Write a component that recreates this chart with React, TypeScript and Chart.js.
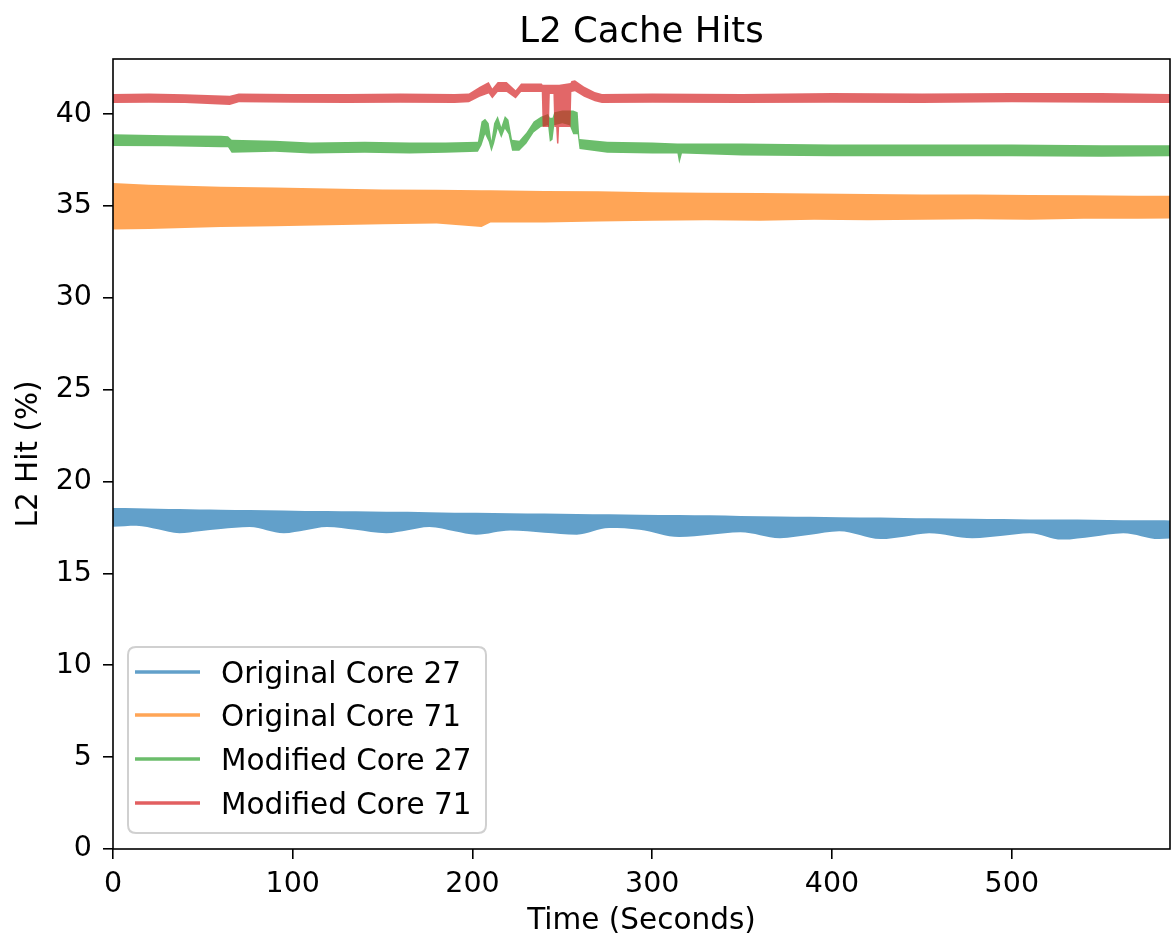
import React, { useEffect, useRef } from 'react';
import { Chart, registerables } from 'chart.js';

Chart.register(...registerables);

const TITLE = 'L2 Cache Hits';
const X_LABEL = 'Time (Seconds)';
const Y_LABEL = 'L2 Hit (%)';
const X_TICKS = [0, 100, 200, 300, 400, 500];
const Y_TICKS = [0, 5, 10, 15, 20, 25, 30, 35, 40];
const X_MAX = 588;
const Y_MAX = 43.0;
const SERIES_NAMES = ['Original Core 27', 'Original Core 71', 'Modified Core 27', 'Modified Core 71'];

// Original Core 27 (blue): envelope of the noisy trace (time, low edge, high edge)
const blueT = [0, 13, 25, 37, 48, 60, 76, 95, 107, 119, 135, 152, 164, 176, 190, 202, 221, 240, 258, 276, 293, 315, 332, 349, 371, 388, 404, 427, 440, 454, 478, 495, 510, 528, 545, 562, 582, 588];
const blueLo = [17.54, 17.6, 17.4, 17.19, 17.3, 17.42, 17.53, 17.19, 17.35, 17.53, 17.38, 17.19, 17.35, 17.53, 17.3, 17.11, 17.34, 17.22, 17.11, 17.47, 17.38, 16.98, 17.1, 17.24, 16.92, 17.1, 17.29, 16.87, 17.0, 17.19, 16.92, 17.05, 17.19, 16.84, 17.0, 17.19, 16.87, 16.9];
const blueHi = [18.56, 18.55, 18.52, 18.5, 18.48, 18.47, 18.45, 18.42, 18.4, 18.4, 18.38, 18.36, 18.35, 18.33, 18.3, 18.3, 18.28, 18.26, 18.24, 18.22, 18.2, 18.18, 18.16, 18.12, 18.1, 18.08, 18.06, 18.04, 18.02, 18.0, 17.98, 17.96, 17.94, 17.93, 17.92, 17.9, 17.89, 17.88];

// Original Core 71 (orange)
const orangeT = [0, 20, 40, 60, 90, 120, 150, 180, 205, 210, 240, 270, 300, 330, 360, 390, 420, 450, 480, 510, 540, 570, 588];
const orangeLo = [33.72, 33.75, 33.8, 33.85, 33.9, 33.95, 34.0, 34.05, 33.85, 34.1, 34.1, 34.15, 34.2, 34.22, 34.2, 34.25, 34.22, 34.25, 34.28, 34.25, 34.3, 34.3, 34.32];
const orangeHi = [36.25, 36.15, 36.1, 36.05, 36.0, 35.95, 35.9, 35.88, 35.86, 35.85, 35.82, 35.8, 35.75, 35.72, 35.7, 35.68, 35.65, 35.63, 35.62, 35.6, 35.58, 35.56, 35.55];

// Modified Core 27 (green)
const greenT = [0, 30, 60, 64, 66, 90, 110, 140, 165, 185, 203, 205, 207, 209, 210.5, 212, 214, 216, 218, 220, 222, 226, 230, 234, 238, 242, 243, 244.5, 245.5, 250, 254, 256, 258.5, 259.5, 275, 300, 314, 315, 316.5, 350, 400, 450, 500, 550, 588];
const greenLo = [38.27, 38.25, 38.2, 38.2, 37.9, 37.95, 37.85, 37.9, 37.85, 37.9, 37.95, 38.3, 38.9, 38.5, 37.95, 38.4, 39.2, 38.7, 39.2, 38.9, 38.0, 38.0, 38.4, 39.0, 39.3, 39.4, 38.5, 38.6, 39.4, 39.5, 39.4, 38.9, 38.9, 38.1, 37.9, 37.85, 37.85, 37.3, 37.85, 37.75, 37.7, 37.7, 37.7, 37.68, 37.7];
const greenHi = [38.9, 38.85, 38.82, 38.8, 38.6, 38.55, 38.45, 38.5, 38.45, 38.45, 38.5, 39.6, 39.75, 39.5, 38.55, 39.5, 39.9, 39.3, 39.9, 39.7, 38.6, 38.55, 39.0, 39.6, 39.85, 40.0, 39.8, 39.8, 40.1, 40.2, 40.2, 40.2, 40.1, 38.65, 38.5, 38.45, 38.4, 38.4, 38.4, 38.4, 38.35, 38.35, 38.35, 38.3, 38.3];

// Modified Core 71 (red)
const redT = [0, 20, 40, 65, 70, 100, 130, 160, 190, 198, 204, 209, 211, 214, 219, 224, 227, 238.5, 239, 242.5, 243, 245, 245.5, 246.5, 247, 247.8, 248.2, 254.5, 255, 257, 262, 268, 272, 300, 350, 400, 450, 500, 550, 588];
const redLo = [40.6, 40.62, 40.6, 40.5, 40.65, 40.62, 40.6, 40.62, 40.6, 40.65, 40.94, 41.12, 40.85, 41.2, 41.2, 40.85, 41.2, 41.2, 39.3, 39.3, 41.1, 41.1, 39.3, 39.3, 38.4, 38.4, 39.3, 39.3, 41.2, 41.25, 40.95, 40.7, 40.6, 40.62, 40.6, 40.62, 40.6, 40.65, 40.62, 40.6];
const redHi = [41.1, 41.12, 41.08, 41.0, 41.12, 41.1, 41.1, 41.12, 41.1, 41.12, 41.49, 41.75, 41.39, 41.75, 41.75, 41.3, 41.66, 41.66, 41.6, 41.6, 41.6, 41.6, 41.6, 41.6, 41.6, 41.6, 41.6, 41.7, 41.8, 41.85, 41.5, 41.2, 41.1, 41.12, 41.1, 41.15, 41.12, 41.15, 41.15, 41.1];

const COLORS = ['#62a0ca', '#ffa556', '#6bbd6b', '#e25f60'];
const FILLS = ['#62a0ca', '#ffa556', '#6bbd6b', 'rgba(214,39,40,0.7)'];

const FONT = 'DejaVu Sans';

function band(name: string, t: number[], lo: number[], hi: number[], fill: string, order: number, smooth: boolean) {
  const common: any = {
    borderColor: 'rgba(0,0,0,0)',
    borderWidth: 0,
    pointRadius: 0,
    pointHoverRadius: 0,
    tension: smooth ? 0.4 : 0,
    cubicInterpolationMode: smooth ? 'monotone' : 'default',
    order,
  };
  return [
    { ...common, label: name + ' (low)', data: t.map((x, i) => ({ x, y: lo[i] })), fill: false },
    { ...common, label: name, data: t.map((x, i) => ({ x, y: hi[i] })), fill: '-1', backgroundColor: fill },
  ];
}

const framePlugin = {
  id: 'frame',
  afterDatasetsDraw(chart: any) {
    const { ctx, chartArea: a } = chart;
    ctx.save();
    ctx.strokeStyle = '#000';
    ctx.lineWidth = 1.6;
    ctx.strokeRect(a.left, a.top, a.right - a.left, a.bottom - a.top);
    ctx.restore();
  },
};

const titlePlugin = {
  id: 'mplTitle',
  afterDraw(chart: any) {
    const { ctx, chartArea: a } = chart;
    ctx.save();
    ctx.fillStyle = '#000';
    ctx.font = `35.5px "${FONT}"`;
    ctx.textAlign = 'center';
    ctx.textBaseline = 'alphabetic';
    ctx.fillText(TITLE, (a.left + a.right) / 2, 42);
    ctx.restore();
  },
};

const legendPlugin = {
  id: 'mplLegend',
  afterDraw(chart: any) {
    const { ctx } = chart;
    const x0 = 128, y0 = 647, w = 358, h = 186, r = 8;
    ctx.save();
    ctx.beginPath();
    ctx.moveTo(x0 + r, y0);
    ctx.lineTo(x0 + w - r, y0);
    ctx.quadraticCurveTo(x0 + w, y0, x0 + w, y0 + r);
    ctx.lineTo(x0 + w, y0 + h - r);
    ctx.quadraticCurveTo(x0 + w, y0 + h, x0 + w - r, y0 + h);
    ctx.lineTo(x0 + r, y0 + h);
    ctx.quadraticCurveTo(x0, y0 + h, x0, y0 + h - r);
    ctx.lineTo(x0, y0 + r);
    ctx.quadraticCurveTo(x0, y0, x0 + r, y0);
    ctx.closePath();
    ctx.fillStyle = 'rgba(255,255,255,0.8)';
    ctx.fill();
    ctx.strokeStyle = '#d0d0d0';
    ctx.lineWidth = 2;
    ctx.stroke();
    const rows = [672, 715, 759, 803];
    ctx.font = `29.5px "${FONT}"`;
    ctx.textAlign = 'left';
    ctx.textBaseline = 'alphabetic';
    SERIES_NAMES.forEach((name, i) => {
      const y = rows[i];
      ctx.strokeStyle = COLORS[i];
      ctx.lineWidth = 3.5;
      ctx.beginPath();
      ctx.moveTo(135, y);
      ctx.lineTo(200, y);
      ctx.stroke();
      ctx.fillStyle = '#000';
      ctx.fillText(name, 221, y + 11);
    });
    ctx.restore();
  },
};

export default function App() {
  const ref = useRef<HTMLCanvasElement | null>(null);
  useEffect(() => {
    document.body.style.margin = '0';
    document.body.style.overflow = 'hidden';
    const canvas = ref.current!;
    const datasets = [
      ...band(SERIES_NAMES[3], redT, redLo, redHi, FILLS[3], 0, false),
      ...band(SERIES_NAMES[2], greenT, greenLo, greenHi, FILLS[2], 1, false),
      ...band(SERIES_NAMES[1], orangeT, orangeLo, orangeHi, FILLS[1], 2, false),
      ...band(SERIES_NAMES[0], blueT, blueLo, blueHi, FILLS[0], 3, true),
    ];
    const tickFont = { family: FONT, size: 28.5 };
    const labelFont = { family: FONT, size: 29.5 };
    const chart = new Chart(canvas, {
      type: 'line',
      data: { datasets: datasets as any },
      options: {
        animation: false,
        responsive: false,
        devicePixelRatio: 1,
        layout: { padding: { top: 59, right: 1, left: 0, bottom: 0 } },
        plugins: {
          legend: { display: false },
          tooltip: { enabled: false },
          title: { display: false },
        },
        scales: {
          x: {
            type: 'linear',
            min: 0,
            max: X_MAX,
            afterBuildTicks: (s: any) => {
              s.ticks = X_TICKS.map((v) => ({ value: v }));
            },
            afterFit: (s: any) => {
              s.height = 97;
            },
            grid: { drawOnChartArea: false, drawTicks: true, tickLength: 10, color: '#000', lineWidth: 1.6 },
            border: { display: false },
            ticks: { font: tickFont, color: '#000', padding: 8, maxRotation: 0, autoSkip: false },
            title: { display: true, text: X_LABEL, font: labelFont, color: '#000', padding: { top: 0, bottom: 7 } },
          },
          y: {
            type: 'linear',
            min: 0,
            max: Y_MAX,
            afterBuildTicks: (s: any) => {
              s.ticks = Y_TICKS.map((v) => ({ value: v }));
            },
            afterFit: (s: any) => {
              s.width = 113;
            },
            grid: { drawOnChartArea: false, drawTicks: true, tickLength: 10, color: '#000', lineWidth: 1.6 },
            border: { display: false },
            ticks: { font: tickFont, color: '#000', padding: 11, autoSkip: false },
            title: { display: true, text: Y_LABEL, font: labelFont, color: '#000', padding: { top: 12, bottom: 0 } },
          },
        },
      },
      plugins: [framePlugin, titlePlugin, legendPlugin],
    });
    return () => chart.destroy();
  }, []);
  return <canvas ref={ref} width={1171} height={946} style={{ display: 'block' }} />;
}
